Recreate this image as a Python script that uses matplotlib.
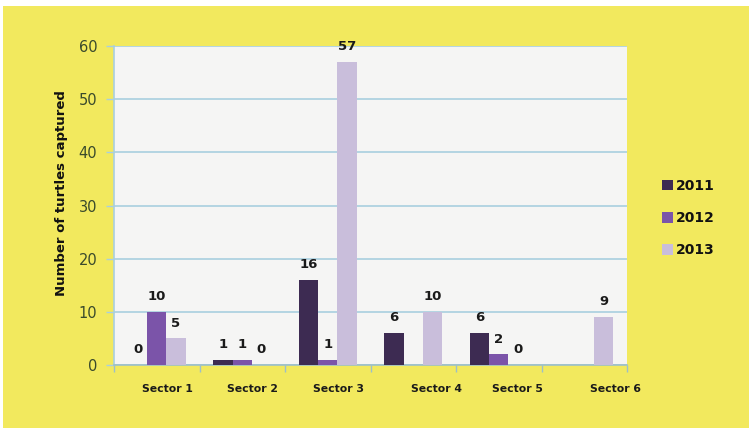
import numpy as np
import matplotlib
matplotlib.use('Agg')
import matplotlib.pyplot as plt

# data (None = no bar drawn)
sectors = ['Sector 1', 'Sector 2', 'Sector 3', 'Sector 4', 'Sector 5', 'Sector 6']
years = ['2011', '2012', '2013']
y2011 = [0, 1, 16, 6, 6, None]
y2012 = [10, 1, 1, None, 2, None]
y2013 = [5, 0, 57, 10, 0, 9]
series = [y2011, y2012, y2013]
yticks = [0, 10, 20, 30, 40, 50, 60]

colors = ['#3d2b52', '#7b54a9', '#c9bedb']
yellow = '#f2e95e'
grid_c = '#a9cfdf'
# the category labels in the original sit a bit right of the group centres
label_shift = [0.12, 0.12, 0.12, 0.27, 0.22, 0.37]

fig = plt.figure(figsize=(7.49, 4.28), dpi=100)
fig.patch.set_facecolor('white')
# yellow panel, white strip on top / left edge
fig.patches.append(plt.Rectangle((3/749, 0), 1, 1 - 6/428, transform=fig.transFigure,
                                 facecolor=yellow, edgecolor='none', zorder=-10))

ax = fig.add_axes([114/749, 63/428, 513/749, 319/428])
ax.set_facecolor('#f5f5f4')

x = np.arange(len(sectors))
w = 0.225
for k, vals in enumerate(series):
    xs = [x[i] + (k - 1) * w for i in range(len(vals)) if vals[i] is not None]
    hs = [v for v in vals if v is not None]
    ax.bar(xs, hs, width=w, color=colors[k], label=years[k], zorder=3)
    for xx, hh in zip(xs, hs):
        ax.annotate(str(hh), (xx, hh), xytext=(0, 11), textcoords='offset points',
                    ha='center', va='center', fontsize=9.5, fontweight='bold',
                    color='#1a1a1a', zorder=4)

ax.set_xlim(-0.5, len(sectors) - 0.5)
ax.set_ylim(0, 60)
ax.set_yticks(yticks)
ax.yaxis.grid(True, color=grid_c, linewidth=1.2, zorder=0)
ax.tick_params(axis='y', colors=grid_c, labelcolor='#3a4a2c', labelsize=10.5,
               length=6, width=1, pad=6)

# category boundaries as minor ticks, labels as major ticks
ax.set_xticks(np.arange(-0.5, len(sectors)), minor=True)
ax.set_xticks(x + np.array(label_shift))
ax.set_xticklabels(sectors, fontsize=7.8, fontweight='bold', color='#1a1a1a')
ax.tick_params(axis='x', which='major', length=0, pad=14)
ax.tick_params(axis='x', which='minor', length=5, width=1, color='#9cbfc9')

for s in ['top', 'right']:
    ax.spines[s].set_visible(False)
ax.spines['left'].set_color(grid_c)
ax.spines['bottom'].set_color('#9cbfc9')
ax.spines['left'].set_linewidth(1.2)
ax.spines['bottom'].set_linewidth(1.2)

ax.set_ylabel('Number of turtles captured', fontsize=9.5, fontweight='bold', color='#111111')
ax.yaxis.set_label_coords(-0.09, 0.54)

leg = ax.legend(loc='center left', bbox_to_anchor=(1.055, 0.46), frameon=False,
                handlelength=0.75, handleheight=0.75, handletextpad=0.25,
                labelspacing=1.3, borderpad=0, prop={'weight': 'bold', 'size': 10})
for t in leg.get_texts():
    t.set_color('#111111')

fig.savefig('out.png', dpi=100, facecolor=fig.get_facecolor())
